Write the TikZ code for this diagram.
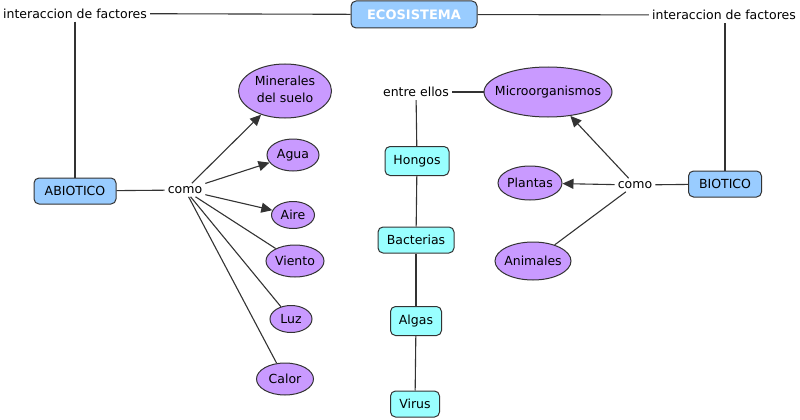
\documentclass[tikz,border=0pt]{standalone}
\usepackage{fontspec}
\setmainfont{DejaVu Sans}
\usetikzlibrary{positioning}
\usetikzlibrary{shapes.geometric}
\usetikzlibrary{arrows.meta}
\definecolor{azulclaro}{HTML}{99CCFF}
\definecolor{lila}{HTML}{C99AFF}
\definecolor{cian}{HTML}{99FFFF}
\newcommand\angosto[1]{\makebox[0pt]{#1}}
\tikzset{
	>={Triangle[length=11pt,width=10pt]},
	caja/.style={
		rectangle, 
		rounded corners=5pt, 
		draw=black!80, line width=1pt,
		minimum height=26pt, 
		inner sep=0pt,
		text=black,
		text centered},
	ovalo/.style={
		ellipse,
		fill=lila,
		draw=black!80, line width=1pt,
		inner sep=0pt,
		text=black,
		text centered},
	palabra/.style={inner sep=3pt, text=black},
	enlace/.style={draw=black!80, line width=1.1pt},
	flecha/.style={enlace, ->},
}
\begin{document}
\begin{tikzpicture}
		[x=1pt, y=-1pt,
		font=\fontsize{12.5}{15}\selectfont]
		\useasboundingbox (0,0) rectangle (800,420);
		\node[caja, fill=azulclaro, text=white, font=\bfseries\fontsize{13}{15}\selectfont, minimum width=126pt, minimum height=27pt] (ecosistema) at (414,14.5) {ECOSISTEMA};
		\node[palabra] (interizq) at (75,13.5) {interaccion de factores};
		\node[palabra] (interder) at (724,15) {interaccion de factores};
		\node[caja, fill=azulclaro, minimum width=82pt] (abiotico) at (75,191) {ABIOTICO};
		\node[caja, fill=azulclaro, minimum width=73pt] (biotico) at (725,184) {BIOTICO};
		\node[palabra] (comoizq) at (185,190) {como};
		\node[palabra] (comoder) at (635,185) {como};
		\node[palabra] (entre) at (416,92) {entre ellos};
		% abioticos
		\node[ovalo, minimum width=93pt, minimum height=54pt] (minerales) at (285,91) {\angosto{\begin{tabular}{@{}c@{}}Minerales\\[2pt]del suelo\end{tabular}}};
		\node[ovalo, minimum width=52pt, minimum height=32pt] (agua) at (293,155) {\angosto{Agua}};
		\node[ovalo, minimum width=43pt, minimum height=27pt] (aire) at (293,215) {\angosto{Aire}};
		\node[ovalo, minimum width=58pt, minimum height=32pt] (viento) at (295,261) {\angosto{Viento}};
		\node[ovalo, minimum width=42pt, minimum height=27pt] (luz) at (291,319) {\angosto{Luz}};
		\node[ovalo, minimum width=57pt, minimum height=32pt] (calor) at (285,379) {\angosto{Calor}};
		% bioticos
		\node[ovalo, minimum width=128pt, minimum height=50pt] (micro) at (548,92) {\angosto{Microorganismos}};
		\node[ovalo, minimum width=64pt, minimum height=34pt] (plantas) at (530,183) {\angosto{Plantas}};
		\node[ovalo, minimum width=76pt, minimum height=38pt] (animales) at (533,261) {\angosto{Animales}};
		\node[caja, fill=cian, minimum width=64pt, minimum height=29pt] (hongos) at (417,161) {Hongos};
		\node[caja, fill=cian, minimum width=76pt] (bacterias) at (416,240) {Bacterias};
		\node[caja, fill=cian, minimum width=51pt, minimum height=29pt] (algas) at (416,321) {Algas};
		\node[caja, fill=cian, minimum width=49pt] (virus) at (415,404) {Virus};
		
		\draw[enlace] (interizq) -- (ecosistema);
		\draw[enlace] (ecosistema) -- (interder);
		\draw[enlace] (interizq) -- (abiotico);
		\draw[enlace] (interder.south -| biotico.north) -- (biotico);
		\draw[enlace] (abiotico) -- (comoizq);
		\draw[flecha] (comoizq) -- (minerales);
		\draw[flecha] (comoizq) -- (agua);
		\draw[flecha] (comoizq) -- (aire);
		\draw[enlace] (comoizq) -- (viento);
		\draw[enlace] (comoizq) -- (luz);
		\draw[enlace] (comoizq) -- (calor);
		\draw[enlace] (biotico) -- (comoder);
		\draw[flecha] (comoder) -- (micro);
		\draw[flecha] (comoder) -- (plantas);
		\draw[enlace] (comoder) -- (animales);
		\draw[enlace] (micro) -- (entre);
		\draw[enlace] (entre) -- (hongos);
		\draw[enlace] (hongos) -- (bacterias);
		\draw[enlace] (bacterias) -- (algas);
		\draw[enlace] (algas) -- (virus);
		
		\end{tikzpicture}
\end{document}
